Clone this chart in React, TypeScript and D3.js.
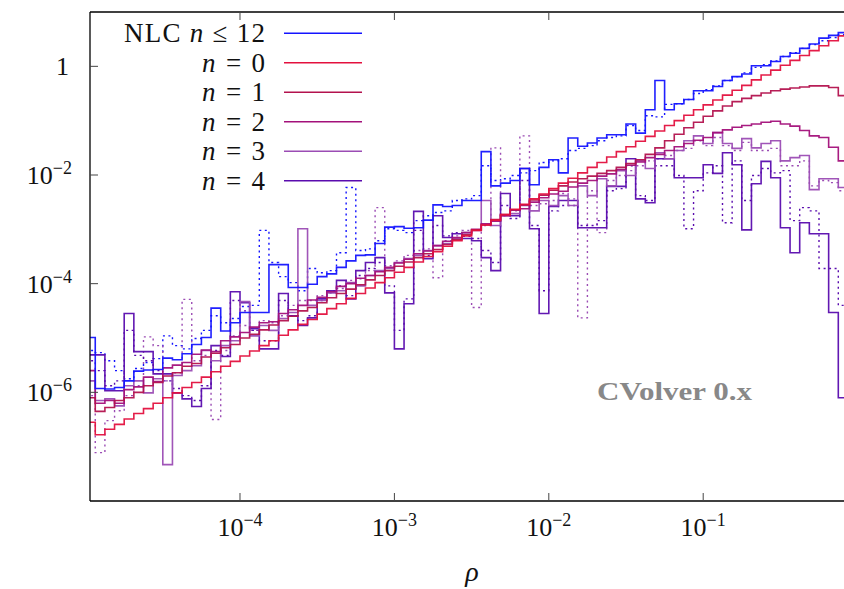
import React, { useEffect, useRef } from 'react';
import * as d3 from 'd3';

// histogram bins: 16 per decade starting at rho = 1e-5 (log10 of bin heights below)
const binsPerDecade = 16;
const firstEdgeExp = -5;

const nlcLog = [
  -4.99, -5.93, -5.94, -5.91, -5.79, -5.61, -5.59, -5.58, -5.37, -5.40,
  -5.29, -5.12, -4.99, -4.45, -4.87, -4.72, -4.53, -4.53, -4.53, -3.65,
  -3.65, -4.07, -4.07, -4.01, -3.87, -3.82, -3.70, -3.58, -3.48, -3.47,
  -3.26, -2.96, -2.95, -2.98, -2.97, -2.83, -2.55, -2.58, -2.56, -2.47,
  -2.47, -1.57, -2.20, -2.15, -2.10, -1.88, -2.18, -1.86, -1.72, -1.96,
  -1.32, -1.47, -1.41, -1.32, -1.26, -1.26, -1.06, -1.23, -0.80, -0.26,
  -0.80, -0.69, -0.61, -0.45, -0.45, -0.37, -0.26, -0.19, -0.14, 0.01,
  0.01, 0.09, 0.18, 0.24, 0.33, 0.41, 0.52, 0.57, 0.62, 0.66,
];
const nlcDotLog = [
  -5.23, -5.27, -5.42, -5.60, -5.75, -5.56, -5.45, -5.38, -4.96, -5.14,
  -5.20, -5.01, -4.86, -4.59, -4.72, -4.64, -4.42, -4.40, -3.02, -3.61,
  -3.87, -3.98, -4.13, -3.72, -3.80, -3.76, -3.43, -2.23, -3.39, -3.36,
  -3.21, -2.99, -3.02, -3.06, -2.84, -2.75, -2.69, -2.66, -2.47, -2.44,
  -2.38, -1.83, -2.10, -2.07, -2.01, -1.96, -1.92, -1.77, -1.74, -1.70,
  -1.55, -1.51, -1.46, -1.37, -1.31, -1.28, -1.09, -1.18, -0.91, -0.93,
  -0.70, -0.69, -0.61, -0.50, -0.43, -0.36, -0.26, -0.19, -0.12, -0.02,
  0.03, 0.10, 0.18, 0.25, 0.33, 0.40, 0.47, 0.53, 0.58, 0.64,
];
const n0Log = [
  -6.55, -6.78, -6.68, -6.59, -6.49, -6.39, -6.30, -6.20, -6.10, -6.01,
  -5.91, -5.82, -5.72, -5.62, -5.52, -5.43, -5.33, -5.24, -5.14, -5.05,
  -4.95, -4.85, -4.75, -4.66, -4.56, -4.46, -4.37, -4.27, -4.18, -4.08,
  -3.98, -3.89, -3.79, -3.70, -3.60, -3.50, -3.41, -3.31, -3.21, -3.12,
  -3.02, -2.92, -2.83, -2.73, -2.63, -2.54, -2.44, -2.35, -2.25, -2.15,
  -2.06, -1.96, -1.86, -1.77, -1.67, -1.57, -1.48, -1.38, -1.29, -1.19,
  -1.09, -1.00, -0.90, -0.80, -0.71, -0.62, -0.53, -0.44, -0.35, -0.25,
  -0.16, -0.07, 0.02, 0.11, 0.20, 0.29, 0.38, 0.47, 0.56, 0.65,
];
const n1Log = [
  -6.10, -6.35, -6.28, -6.15, -6.10, -6.00, -5.88, -5.82, -5.70, -5.64,
  -5.52, -5.47, -5.35, -5.28, -5.18, -5.12, -5.00, -4.93, -4.85, -4.76,
  -4.68, -4.60, -4.50, -4.44, -4.35, -4.26, -4.18, -4.10, -4.02, -3.93,
  -3.85, -3.76, -3.68, -3.60, -3.52, -3.45, -3.37, -3.28, -3.19, -3.10,
  -3.01, -2.92, -2.82, -2.73, -2.64, -2.55, -2.46, -2.37, -2.28, -2.20,
  -2.13, -2.07, -2.02, -1.97, -1.92, -1.86, -1.79, -1.72, -1.62, -1.50,
  -1.37, -1.25, -1.13, -1.03, -0.92, -0.82, -0.73, -0.65, -0.59, -0.54,
  -0.49, -0.45, -0.42, -0.40, -0.38, -0.36, -0.36, -0.39, -0.54, -0.63,
];
const n2Log = [
  -5.60, -6.20, -6.15, -6.20, -5.95, -5.90, -5.72, -5.80, -5.55, -5.50,
  -5.45, -5.30, -5.22, -5.25, -5.05, -4.98, -4.90, -4.80, -4.72, -4.70,
  -4.55, -4.48, -4.40, -4.30, -4.25, -4.15, -4.05, -4.00, -3.90, -3.85,
  -3.78, -3.70, -3.62, -3.55, -3.45, -3.40, -3.30, -3.22, -3.15, -3.06,
  -3.00, -2.90, -2.85, -2.75, -2.65, -2.62, -2.50, -2.42, -2.35, -2.30,
  -2.22, -2.15, -2.10, -2.02, -1.98, -1.90, -1.82, -1.76, -1.68, -1.62,
  -1.55, -1.48, -1.42, -1.36, -1.31, -1.22, -1.17, -1.12, -1.09, -1.06,
  -1.03, -1.01, -1.06, -1.10, -1.18, -1.28, -1.31, -1.49, -1.74, -1.83,
];
const n3Log = [
  -5.79, -6.15, -6.12, -6.25, -5.88, -5.79, -6.01, -5.75, -7.33, -5.69,
  -5.60, -5.51, -5.23, -5.42, -5.14, -5.05, -4.33, -4.96, -4.77, -4.86,
  -4.64, -4.53, -2.99, -4.40, -4.31, -4.17, -4.13, -3.98, -4.04, -3.85,
  -3.76, -3.72, -3.61, -3.54, -3.48, -3.39, -3.30, -3.26, -3.17, -3.06,
  -3.02, -2.47, -2.93, -2.75, -2.71, -2.56, -2.66, -2.47, -2.56, -2.38,
  -2.56, -2.20, -2.38, -2.07, -2.20, -1.92, -2.01, -1.74, -1.88, -1.59,
  -1.70, -1.55, -1.37, -1.28, -1.42, -1.22, -1.42, -1.51, -1.33, -1.50,
  -1.42, -1.37, -1.74, -1.68, -1.64, -2.27, -2.07, -2.07, -2.23, -2.29,
];
const n3DotLog = [
  -6.06, -7.11, -6.52, -6.34, -6.06, -5.88, -4.98, -5.14, -5.79, -5.64,
  -4.29, -5.42, -5.32, -6.50, -5.23, -4.96, -4.77, -4.86, -4.68, -4.72,
  -4.59, -4.40, -4.31, -4.31, -4.22, -4.13, -4.09, -3.94, -3.91, -3.76,
  -2.60, -3.67, -3.58, -3.48, -3.39, -3.36, -3.89, -3.21, -3.12, -3.02,
  -4.44, -2.93, -1.50, -2.75, -2.66, -1.28, -2.56, -2.53, -2.47, -2.34,
  -2.44, -4.63, -2.29, -3.06, -2.10, -2.01, -1.92, -1.83, -1.74, -1.70,
  -1.64, -1.55, -1.51, -1.37, -1.46, -1.31, -1.46, -1.55, -1.40, -1.55,
  -1.55, -1.51, -1.83, -1.83, -1.74, -2.20, -2.10, -2.14, -2.29, -2.38,
];
const n4Log = [
  -5.31, -5.31, -5.97, -5.97, -4.55, -5.25, -5.25, -5.66, -5.66, -6.01,
  -6.12, -6.26, -5.93, -5.14, -5.34, -4.15, -4.35, -4.83, -5.20, -5.20,
  -4.18, -4.59, -4.77, -4.63, -4.28, -4.13, -3.94, -4.28, -3.76, -3.61,
  -3.52, -4.17, -5.20, -4.37, -2.67, -3.54, -2.75, -3.15, -3.08, -3.17,
  -3.21, -3.52, -3.76, -2.34, -2.75, -1.88, -2.99, -4.55, -2.58, -2.47,
  -2.47, -2.97, -2.97, -2.97, -2.21, -2.21, -1.70, -2.44, -2.51, -1.70,
  -1.70, -2.05, -2.05, -2.05, -1.81, -1.97, -1.59, -1.81, -3.01, -2.16,
  -1.75, -2.05, -2.97, -3.43, -2.88, -3.08, -3.08, -4.53, -6.10, -6.15,
];
const n4DotLog = [
  -5.42, -5.60, -5.88, -5.79, -4.86, -5.32, -5.42, -5.60, -5.79, -5.93,
  -6.06, -6.15, -5.88, -5.23, -5.32, -4.31, -4.50, -4.86, -5.05, -5.05,
  -4.31, -4.59, -4.68, -4.59, -4.31, -4.17, -4.04, -4.22, -3.85, -3.72,
  -3.61, -4.04, -4.86, -4.28, -3.02, -3.48, -2.93, -3.12, -3.06, -3.13,
  -3.17, -3.39, -3.61, -2.56, -2.80, -2.10, -2.93, -4.13, -2.66, -2.56,
  -2.56, -2.93, -2.93, -2.84, -2.29, -2.25, -1.83, -2.38, -2.47, -1.83,
  -1.83, -2.01, -2.99, -2.29, -1.96, -1.83, -2.88, -1.74, -2.47, -2.01,
  -1.88, -1.96, -1.92, -2.84, -2.60, -2.66, -3.72, -3.72, -4.40, -4.50,
];

const legendNames = ['NLC', '0', '1', '2', '3', '4'];
const colors = ['#1414ff', '#e3103e', '#b3124e', '#a3107a', '#9b4cb4', '#5a0cae'];
const solidSeries = [nlcLog, n0Log, n1Log, n2Log, n3Log, n4Log];
const dottedSeries = [
  { vals: nlcDotLog, color: colors[0] },
  { vals: n3DotLog, color: colors[4] },
  { vals: n4DotLog, color: colors[5] },
];

const xTickExps = [-4, -3, -2, -1];
const yTickExps = [-6, -4, -2, 0];

const App = () => {
  const svgRef = useRef<SVGSVGElement>(null);

  useEffect(() => {
    const svg = d3.select(svgRef.current);
    svg.selectAll('*').remove();

    const left = 90, top = 12, bottom = 501, right = 857.6;
    const font = '"Liberation Serif", "Times New Roman", serif';

    const x = d3.scaleLog().domain([Math.pow(10, -4.9715), 1]).range([left, right]);
    const y = d3.scaleLog().domain([1e-8, 10]).range([bottom, top]);

    svg.append('clipPath').attr('id', 'plotclip')
      .append('rect')
      .attr('x', left).attr('y', top)
      .attr('width', right - left).attr('height', bottom - top);

    const edge = (i: number) => Math.pow(10, firstEdgeExp + i / binsPerDecade);
    const stepLine = d3.line<[number, number]>()
      .x(d => d[0]).y(d => d[1])
      .curve(d3.curveStepAfter);
    const toPoints = (vals: number[]): [number, number][] => {
      const pts: [number, number][] = vals.map((v, i) => [x(edge(i)), y(Math.pow(10, v))]);
      pts.push([x(edge(vals.length)), y(Math.pow(10, vals[vals.length - 1]))]);
      return pts;
    };

    const plot = svg.append('g').attr('clip-path', 'url(#plotclip)');

    dottedSeries.forEach(s => {
      plot.append('path')
        .attr('d', stepLine(toPoints(s.vals)))
        .attr('fill', 'none')
        .attr('stroke', s.color)
        .attr('stroke-width', 1.4)
        .attr('stroke-dasharray', '2,3.5');
    });

    // draw n=4 first, NLC last so blue ends on top
    for (let i = solidSeries.length - 1; i >= 0; i--) {
      plot.append('path')
        .attr('d', stepLine(toPoints(solidSeries[i])))
        .attr('fill', 'none')
        .attr('stroke', colors[i])
        .attr('stroke-width', 1.6)
        .attr('stroke-opacity', 0.95);
    }

    // frame
    const frame = svg.append('g').attr('stroke', '#000').attr('stroke-width', 1.3).attr('fill', 'none');
    frame.append('line').attr('x1', left).attr('x2', right).attr('y1', top).attr('y2', top);
    frame.append('line').attr('x1', left).attr('x2', right).attr('y1', bottom).attr('y2', bottom);
    frame.append('line').attr('x1', left).attr('x2', left).attr('y1', top).attr('y2', bottom);

    const ticks = svg.append('g').attr('stroke', '#444').attr('stroke-width', 1);
    xTickExps.forEach(e => {
      const px = x(Math.pow(10, e));
      ticks.append('line').attr('x1', px).attr('x2', px).attr('y1', bottom).attr('y2', bottom - 8);
      ticks.append('line').attr('x1', px).attr('x2', px).attr('y1', top).attr('y2', top + 8);
    });
    yTickExps.forEach(e => {
      const py = y(Math.pow(10, e));
      ticks.append('line').attr('x1', left).attr('x2', left + 8).attr('y1', py).attr('y2', py);
    });

    const powLabel = (g: any, e: number) => {
      if (e === 0) {
        g.append('tspan').text('1');
        return;
      }
      g.append('tspan').text('10');
      g.append('tspan').attr('dy', -10).attr('font-size', 18).text('\u2212' + Math.abs(e));
    };

    xTickExps.forEach(e => {
      const t = svg.append('text')
        .attr('x', x(Math.pow(10, e)))
        .attr('y', 536)
        .attr('text-anchor', 'middle')
        .attr('font-family', font)
        .attr('font-size', 26)
        .attr('fill', '#111');
      powLabel(t, e);
    });
    yTickExps.forEach(e => {
      const t = svg.append('text')
        .attr('x', e === 0 ? 69 : 72)
        .attr('y', y(Math.pow(10, e)) + 9)
        .attr('text-anchor', 'end')
        .attr('font-family', font)
        .attr('font-size', 26)
        .attr('fill', '#111');
      powLabel(t, e);
    });

    svg.append('text')
      .attr('x', 472).attr('y', 581)
      .attr('text-anchor', 'middle')
      .attr('font-family', font)
      .attr('font-style', 'italic')
      .attr('font-size', 28)
      .attr('fill', '#111')
      .text('\u03c1');

    svg.append('text')
      .attr('x', 597).attr('y', 400)
      .attr('font-family', font)
      .attr('font-weight', 'bold')
      .attr('font-size', 26)
      .attr('textLength', 155)
      .attr('lengthAdjust', 'spacingAndGlyphs')
      .attr('fill', '#888')
      .text('CVolver 0.x');

    // legend
    legendNames.forEach((name, i) => {
      const ly = 33.3 + 29.5 * i;
      const t = svg.append('text')
        .attr('x', 265).attr('y', ly + 9)
        .attr('text-anchor', 'end')
        .attr('font-family', font)
        .attr('font-size', 27)
        .attr('fill', '#111')
        .attr('textLength', name === 'NLC' ? 141 : 63)
        .attr('lengthAdjust', 'spacing');
      if (name === 'NLC') {
        t.append('tspan').text('NLC ');
        t.append('tspan').attr('font-style', 'italic').text('n');
        t.append('tspan').text(' \u2264 12');
      } else {
        t.append('tspan').attr('font-style', 'italic').text('n');
        t.append('tspan').text(' = ' + name);
      }
      svg.append('line')
        .attr('x1', 284).attr('x2', 362)
        .attr('y1', ly).attr('y2', ly)
        .attr('stroke', colors[i])
        .attr('stroke-width', 1.5);
    });
  }, []);

  return (
    <svg ref={svgRef} width={844} height={589}
      style={{ position: 'absolute', left: 0, top: 0, background: '#fff' }} />
  );
};

export default App;
